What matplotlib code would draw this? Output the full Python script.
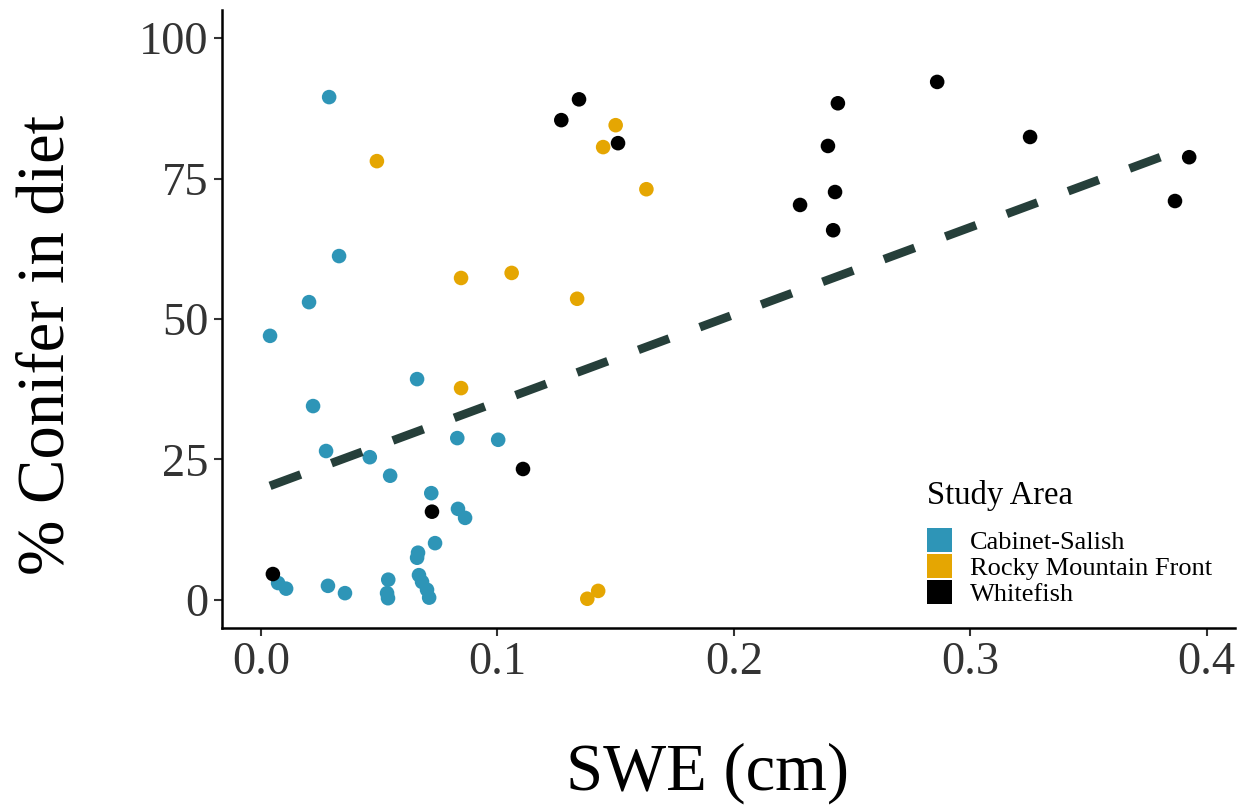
import matplotlib
matplotlib.use("Agg")
import matplotlib.pyplot as plt
from matplotlib.patches import Patch

# Data
cs_swe = [0.0288, 0.033, 0.0203, 0.0038, 0.066, 0.022, 0.0275, 0.046, 0.1003, 0.083,
          0.0546, 0.072, 0.0833, 0.0863, 0.0736, 0.0664, 0.0660, 0.0668, 0.0681, 0.0702,
          0.0711, 0.0538, 0.0533, 0.0537, 0.0283, 0.0355, 0.0072, 0.0106]
cs_conifer = [89.5, 61.2, 53.0, 47.0, 39.3, 34.5, 26.5, 25.4, 28.5, 28.8,
              22.1, 19.0, 16.2, 14.6, 10.1, 8.4, 7.5, 4.4, 3.2, 1.8,
              0.4, 3.6, 1.2, 0.3, 2.5, 1.2, 3.0, 2.0]

rmf_swe = [0.049, 0.150, 0.1447, 0.163, 0.0846, 0.106, 0.1337, 0.0846, 0.1426, 0.138]
rmf_conifer = [78.1, 84.5, 80.6, 73.1, 57.3, 58.2, 53.6, 37.7, 1.6, 0.2]

wf_swe = [0.1345, 0.127, 0.151, 0.286, 0.244, 0.3253, 0.2398, 0.2428, 0.228, 0.242,
          0.3926, 0.3866, 0.1108, 0.0723, 0.005]
wf_conifer = [89.1, 85.4, 81.3, 92.2, 88.4, 82.4, 80.8, 72.6, 70.3, 65.8,
              78.8, 71.0, 23.3, 15.7, 4.6]

fit_swe = [0.0038, 0.3926]
fit_conifer = [20.3, 80.7]

areas = ["Cabinet-Salish", "Rocky Mountain Front", "Whitefish"]
colors = ["#2E95B7", "#E5A602", "#000000"]

xticks = [0.0, 0.1, 0.2, 0.3, 0.4]
xticklabels = ["0.0", "0.1", "0.2", "0.3", "0.4"]
yticks = [0, 25, 50, 75, 100]
yticklabels = ["0", "25", "50", "75", "100"]

plt.rcParams['font.family'] = ['Liberation Serif', 'DejaVu Serif']

fig = plt.figure(figsize=(12.44, 8.08), dpi=100)
ax = fig.add_axes([0.1785, 0.2228, 0.8143, 0.7648])

for xs, ys, c in [(cs_swe, cs_conifer, colors[0]),
                  (rmf_swe, rmf_conifer, colors[1]),
                  (wf_swe, wf_conifer, colors[2])]:
    ax.scatter(xs, ys, s=110, color=c, edgecolors='none', zorder=3)

ax.plot(fit_swe, fit_conifer, color="#263F3A", lw=6.2, dashes=(3.8, 3.8),
        solid_capstyle='butt', dash_capstyle='butt', zorder=4)

ax.set_xlim(-0.0165, 0.412)
ax.set_ylim(-5, 105)
ax.set_xticks(xticks)
ax.set_xticklabels(xticklabels)
ax.set_yticks(yticks)
ax.set_yticklabels(yticklabels)

for s in ['top', 'right']:
    ax.spines[s].set_visible(False)
for s in ['left', 'bottom']:
    ax.spines[s].set_linewidth(1.8)
    ax.spines[s].set_color('black')

ax.tick_params(axis='both', which='major', length=6, width=1.5, color='#333333',
               labelsize=33.5, labelcolor='#333333', pad=4)

ax.set_xlabel("SWE (cm)", fontsize=48)
ax.set_ylabel("% Conifer in diet", fontsize=48)
ax.xaxis.set_label_coords(0.479, -0.235)
ax.yaxis.set_label_coords(-0.173, 0.458)
ax.xaxis.label.set_va('center')
ax.yaxis.label.set_va('center')

handles = [Patch(facecolor=c, edgecolor='none', label=a) for a, c in zip(areas, colors)]
leg = ax.legend(handles=handles, title="Study Area", loc='upper left',
                bbox_to_anchor=(927 / 1244, 1 - 480 / 808),
                bbox_transform=fig.transFigure, frameon=False, fontsize=19,
                title_fontsize=23.5, handlelength=0.95, handleheight=1.02,
                handletextpad=0.68, labelspacing=0.0, borderaxespad=0.0,
                borderpad=0.0)
leg._legend_box.align = "left"
leg._legend_box.sep = 12

fig.savefig("out.png", dpi=100, facecolor='white')
